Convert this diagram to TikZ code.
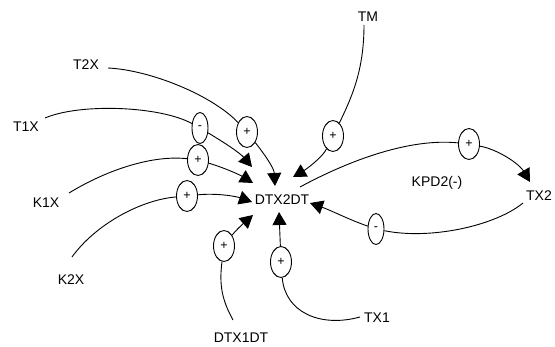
\documentclass[tikz,border=0pt]{standalone}
\usepackage{fontspec}
\setmainfont{Liberation Sans}
\usetikzlibrary{arrows.meta,shapes.geometric,calc}

\tikzset{
  var/.style={inner sep=2pt, font=\fontsize{14}{16}\selectfont},
  sign/.style={draw, ellipse, line width=0.9pt, inner sep=0pt,
               minimum height=31pt, font=\fontsize{12.5}{13}\selectfont},
  plussign/.style={sign, minimum width=21pt},
  minussign/.style={sign, minimum width=16pt},
  link/.style={line width=0.9pt},
  flow/.style={link, -{Triangle[length=13pt, width=14pt]}}
}

\begin{document}
\begin{tikzpicture}[x=1pt, y=-1pt]
  \useasboundingbox (0,0) rectangle (555,347);

  % variables
  \node[var] (tm)  at (368,17)  {TM};
  \node[var] (t2x) at (86,65)   {T2X};
  \node[var] (t1x) at (26,127)  {T1X};
  \node[var] (k1x) at (46,203)  {K1X};
  \node[var] (k2x) at (71,280)  {K2X};
  \node[var] (d1)  at (241,338) {DTX1DT};
  \node[var] (tx1) at (377,318) {TX1};
  \node[var] (dt)  at (282,200) {DTX2DT};
  \node[var] (kpd) at (437,183) {KPD2(-)};
  \node[var] (tx2) at (539,196) {TX2};

  % polarity markers
  \node[plussign]  (etm)  at (333,136) {+};
  \node[plussign]  (et2)  at (247,132) {+};
  \node[minussign] (et1)  at (200,128) {-};
  \node[plussign]  (ek1)  at (198,160) {+};
  \node[plussign]  (ek2)  at (187,196) {+};
  \node[plussign]  (ed1)  at (224,246) {+};
  \node[plussign]  (etx1) at (281,262) {+};
  \node[plussign]  (ekp)  at (469,144) {+};
  \node[minussign] (etx2) at (376,229) {-};

  % TM -> DTX2DT
  \draw[link] ($(tm)+(-4,8)$) .. controls (364,70) and (352,97) .. (etm);
  \draw[flow] (etm) .. controls (322,158) and (305,170) .. ($(dt)+(11,-23)$);

  % T2X -> DTX2DT
  \draw[link] ($(t2x)+(22,3)$) .. controls (150,70) and (212,95) .. (et2);
  \draw[flow] (et2) .. controls (265,155) and (274,168) .. ($(dt)+(-7,-14)$);

  % T1X -> DTX2DT
  \draw[link] ($(t1x)+(19,-9)$) .. controls (80,103) and (160,106) .. (et1);
  \draw[flow] (et1) .. controls (225,143) and (240,153) .. ($(dt)+(-30,-33)$);

  % K1X -> DTX2DT
  \draw[link] ($(k1x)+(23,-10)$) .. controls (110,168) and (155,155) .. (ek1);
  \draw[flow] (ek1) .. controls (225,168) and (240,175) .. ($(dt)+(-29,-17)$);

  % K2X -> DTX2DT
  \draw[link] ($(k2x)+(1,-23)$) .. controls (95,225) and (140,200) .. (ek2);
  \draw[flow] (ek2) .. controls (215,193) and (235,196) .. ($(dt)+(-30,2)$);

  % DTX1DT -> DTX2DT
  \draw[link] ($(d1)+(-8,-18)$) .. controls (222,300) and (219,285) .. (ed1);
  \draw[flow] (ed1) .. controls (236,230) and (245,222) .. ($(dt)+(-29,15)$);

  % TX1 -> DTX2DT
  \draw[link] ($(tx1)+(-17,-1)$) .. controls (320,328) and (285,312) .. (etx1);
  \draw[flow] (etx1) -- ($(dt)+(-3,12)$);

  % DTX2DT -> TX2 (upper loop)
  \draw[link] ($(dt)+(18,-13)$) .. controls (350,160) and (410,138) .. (ekp);
  \draw[flow] (ekp) .. controls (500,150) and (520,165) .. ($(tx2)+(-9,-14)$);

  % TX2 -> DTX2DT (lower loop)
  \draw[link] ($(tx2)+(-16,7)$) .. controls (495,226) and (430,240) .. (etx2);
  \draw[flow] (etx2) .. controls (350,220) and (330,210) .. ($(dt)+(28,3)$);
\end{tikzpicture}
\end{document}
